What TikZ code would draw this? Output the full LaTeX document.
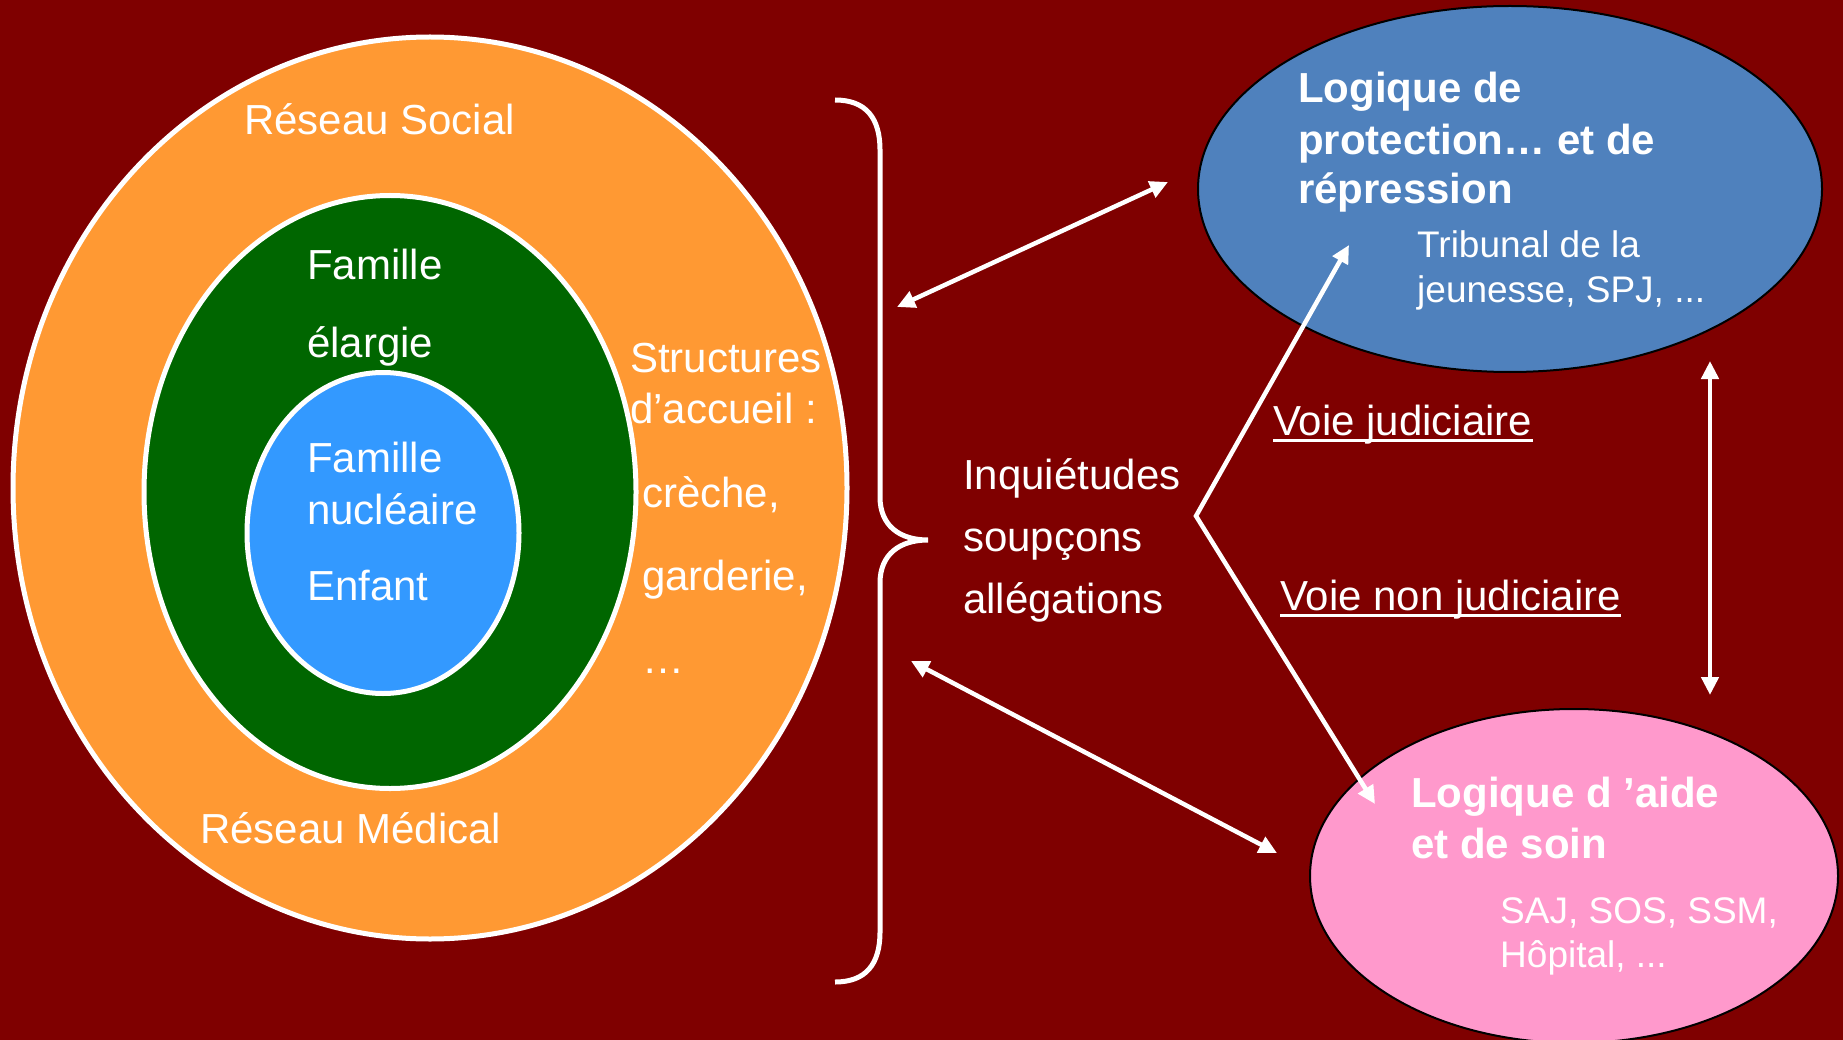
\documentclass[tikz,border=0pt]{standalone}
\usepackage{fontspec}
\setmainfont{Liberation Sans}
\usetikzlibrary{shapes.geometric,arrows.meta}
\definecolor{bgred}{RGB}{127,0,0}
\definecolor{reseau}{RGB}{255,153,51}
\definecolor{famgreen}{RGB}{0,102,0}
\definecolor{nucblue}{RGB}{51,153,255}
\definecolor{protblue}{RGB}{79,129,189}
\definecolor{aidepink}{RGB}{255,153,204}
\tikzset{
  ring/.style={shape=ellipse, inner sep=0pt, draw=white, line width=5pt},
  logic/.style={shape=ellipse, inner sep=0pt, draw=black, line width=2pt},
  lbl/.style={anchor=base west, inner sep=0pt, text=white, font=\fontsize{42}{50}\selectfont},
  lblb/.style={lbl, font=\fontsize{42}{50}\selectfont\bfseries},
  lbls/.style={lbl, font=\fontsize{37}{44}\selectfont},
  conn/.style={draw=white, line width=4.5pt, {Triangle[length=18pt,width=17pt]}-{Triangle[length=18pt,width=17pt]}},
  bracestroke/.style={draw=white, line width=5pt},
  uline/.style={draw=white, line width=3pt}
}
\begin{document}
\begin{tikzpicture}[x=1pt,y=-1pt]
\useasboundingbox (0,0) rectangle (1843,1040);
\fill[bgred] (0,0) rectangle (1843,1040);

% concentric circles of the child's environment
\node[ring, fill=reseau, minimum width=834pt, minimum height=902pt] (reseau) at (430,488) {};
\node[ring, fill=famgreen, minimum width=492pt, minimum height=593pt] (elargie) at (390,492) {};
\node[ring, fill=nucblue, minimum width=272pt, minimum height=321pt] (nucleaire) at (383,533) {};

\node[lbl] (social) at (244,135) {Réseau Social};
\node[lbl] (medical) at (200,843) {Réseau Médical};
\node[lbl] (fam1) at (307,280) {Famille};
\node[lbl] (fam2) at (307,357) {élargie};
\node[lbl] (nuc1) at (307,472) {Famille};
\node[lbl] (nuc2) at (307,524) {nucléaire};
\node[lbl] (enf) at (307,600) {Enfant};
\node[lbl] (str1) at (630,372) {Structures};
\node[lbl] (str2) at (630,423) {d’accueil :};
\node[lbl] (str3) at (642,507) {crèche,};
\node[lbl] (str4) at (642,590) {garderie,};
\node[lbl] (str5) at (642,673) {…};

% brace gathering the environment
\draw[bracestroke] (835,100) .. controls (866,100) and (880,118) .. (880,150)
  -- (880,497) .. controls (880,526) and (900,540) .. (928,540)
  .. controls (900,540) and (880,554) .. (880,583)
  -- (880,932) .. controls (880,964) and (866,982) .. (835,982);

\node[lbl] (inq1) at (963,489) {Inquiétudes};
\node[lbl] (inq2) at (963,551) {soupçons};
\node[lbl] (inq3) at (963,613) {allégations};

% the two logics
\node[logic, fill=protblue, minimum width=624pt, minimum height=366pt] (protect) at (1510,189) {};
\node[logic, fill=aidepink, minimum width=528pt, minimum height=334pt] (aide) at (1574,876) {};

\node[lblb] (p1) at (1298,103) {Logique de};
\node[lblb] (p2) at (1298,155) {protection… et de};
\node[lblb] (p3) at (1298,204) {répression};
\node[lbls] (p4) at (1417,258) {Tribunal de la};
\node[lbls] (p5) at (1417,302) {jeunesse, SPJ, ...};

\node[lblb] (a1) at (1411,807) {Logique d ’aide};
\node[lblb] (a2) at (1411,858) {et de soin};
\node[lbls] (a3) at (1500,923) {SAJ, SOS, SSM,};
\node[lbls] (a4) at (1500,967) {Hôpital, ...};

% the two ways
\node[lbl] (vj) at (1273,435) {Voie judiciaire};
\node[lbl] (vnj) at (1280,610) {Voie non judiciaire};
\draw[uline] ([yshift=-5pt]vj.base west) -- ([yshift=-5pt]vj.base east);
\draw[uline] ([yshift=-5pt]vnj.base west) -- ([yshift=-5pt]vnj.base east);

% connectors
\coordinate (braceTop) at (897,307);
\coordinate (protL) at (1168,182);
\coordinate (braceBot) at (911,661);
\coordinate (aideL) at (1277,853);
\coordinate (protB) at (1710,361);
\coordinate (aideT) at (1710,695);
\coordinate (apex) at (1196,516);
\coordinate (protIn) at (1349,245);
\coordinate (aideIn) at (1375,804);

\draw[conn] (braceTop) -- (protL);
\draw[conn] (braceBot) -- (aideL);
\draw[conn] (protB) -- (aideT);
\draw[conn, line join=miter] (protIn) -- (apex) -- (aideIn);
\end{tikzpicture}
\end{document}
